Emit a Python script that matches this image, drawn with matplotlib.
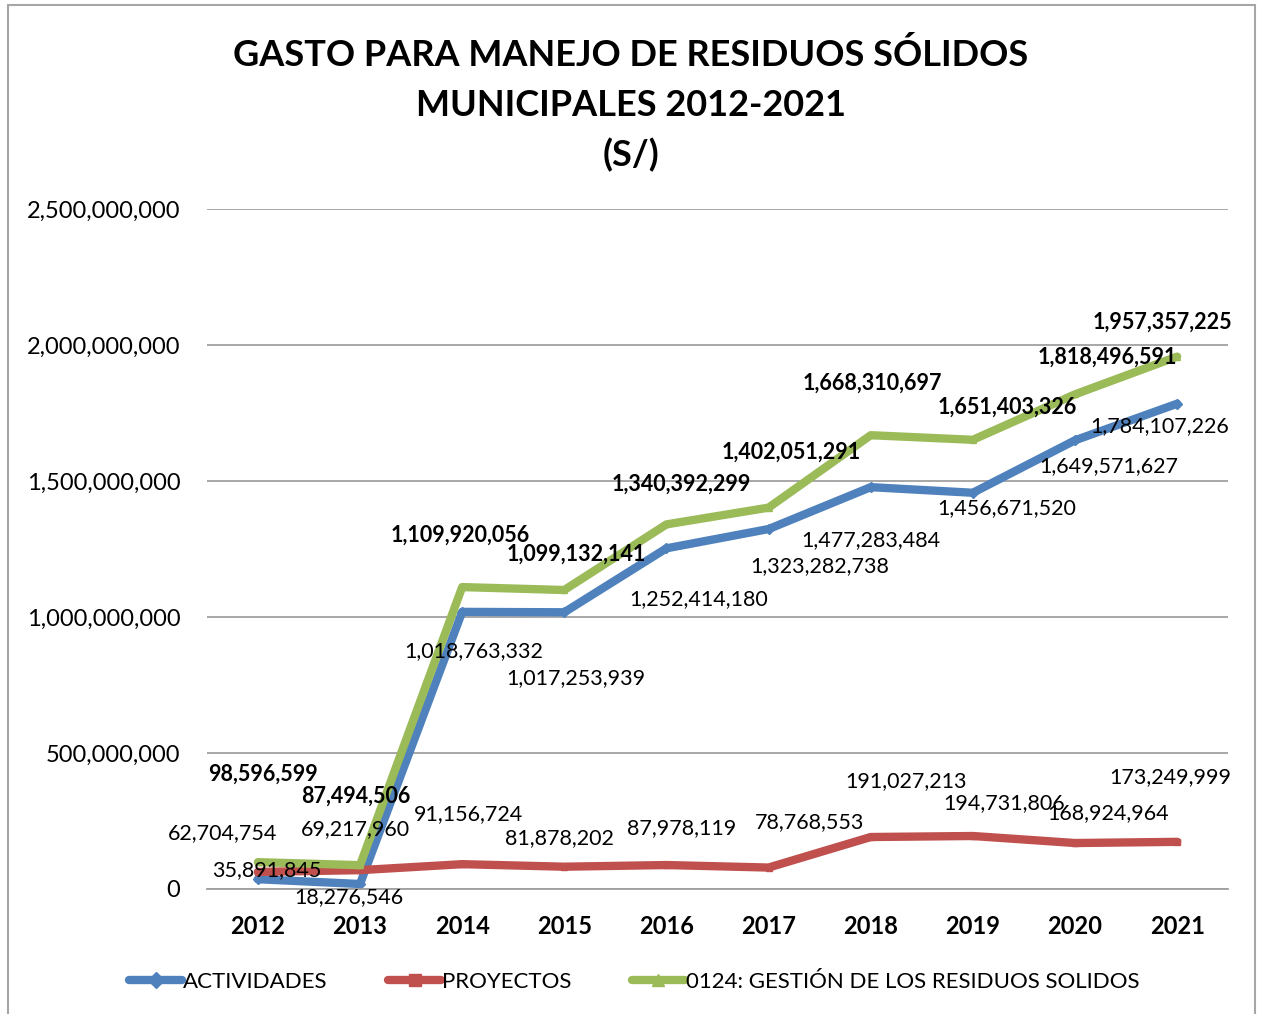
import matplotlib.pyplot as plt
from matplotlib.patches import Rectangle
from matplotlib.ticker import FuncFormatter

plt.rcParams['font.family'] = ['Lato', 'DejaVu Sans']

years = ['2012', '2013', '2014', '2015', '2016', '2017', '2018', '2019', '2020', '2021']
actividades = [35891845, 18276546, 1018763332, 1017253939, 1252414180,
               1323282738, 1477283484, 1456671520, 1649571627, 1784107226]
proyectos = [62704754, 69217960, 91156724, 81878202, 87978119,
             78768553, 191027213, 194731806, 168924964, 173249999]
gestion = [98596599, 87494506, 1109920056, 1099132141, 1340392299,
           1402051291, 1668310697, 1651403326, 1818496591, 1957357225]

# label offsets in pixels (dx, dy up) from each point
off_act = [(9, 9), (-11, -13), (12, -39), (12, -66), (32, -51),
           (51, -37), (0, -53), (34, -15), (34, -26), (-17, -22)]
off_pro = [(-35, 39), (-5, 41), (6, 50), (-5, 29), (15, 37),
           (41, 45), (35, 56), (31, 33), (33, 30), (-7, 65)]
off_ges = [(5, 88), (-4, 69), (-2, 52), (12, 36), (15, 40),
           (23, 55), (2, 52), (34, 33), (32, 37), (-15, 34)]

blue, red, green = '#4F81BD', '#C0504D', '#9BBB59'

fig = plt.figure(figsize=(12.61, 10.14), dpi=100)
ax = fig.add_axes([0.164, 0.1233, 0.81, 0.6706])
x = list(range(len(years)))

kw = dict(lw=6, ms=5, solid_capstyle='round', solid_joinstyle='round')
ax.plot(x, actividades, color=blue, marker='D', label='ACTIVIDADES', **kw)
ax.plot(x, proyectos, color=red, marker='s', label='PROYECTOS', **kw)
ax.plot(x, gestion, color=green, marker='^', label='0124: GESTIÓN DE LOS RESIDUOS SOLIDOS', **kw)

def put_labels(vals, offs, bold):
    for i, (v, (dx, dy)) in enumerate(zip(vals, offs)):
        ax.annotate(f'{v:,}', (i, v), xytext=(dx, dy), textcoords='offset pixels',
                    ha='center', va='center', fontsize=15.5,
                    fontweight='bold' if bold else 'normal', color='black')

put_labels(actividades, off_act, False)
put_labels(proyectos, off_pro, False)
put_labels(gestion, off_ges, True)

ax.set_xlim(-0.5, 9.5)
ax.set_ylim(0, 2500000000)
ax.set_yticks(range(0, 2500000001, 500000000))
ax.yaxis.set_major_formatter(FuncFormatter(lambda v, p: f'{int(v):,}'))
ax.set_xticks(x)
ax.set_xticklabels(years, fontweight='bold')
ax.tick_params(axis='both', length=0, labelsize=17)
ax.tick_params(axis='x', pad=19)
ax.tick_params(axis='y', pad=19)
ax.grid(axis='y', color='#A0A0A0', lw=1.3)
ax.set_axisbelow(True)
for s in ['top', 'right', 'left']:
    ax.spines[s].set_visible(False)
ax.spines['bottom'].set_color('#A0A0A0')
ax.spines['bottom'].set_linewidth(1.3)

fig.text(0.5, 0.946, 'GASTO PARA MANEJO DE RESIDUOS SÓLIDOS', ha='center', va='center',
         fontsize=26, fontweight='bold')
fig.text(0.5, 0.896, 'MUNICIPALES 2012-2021', ha='center', va='center',
         fontsize=26, fontweight='bold')
fig.text(0.5, 0.847, '(S/)', ha='center', va='center', fontsize=26, fontweight='bold')

fig.legend(loc='center', bbox_to_anchor=(0.503, 0.032), ncol=3, frameon=False,
           fontsize=16, handlelength=2.4, handletextpad=0.05, columnspacing=2.7,
           markerscale=1.7)

fig.patches.append(Rectangle((0.006, -0.01), 0.989, 1.005, transform=fig.transFigure,
                             fill=False, edgecolor='#A6A6A6', lw=1.5))

fig.savefig('out.png', dpi=100)
